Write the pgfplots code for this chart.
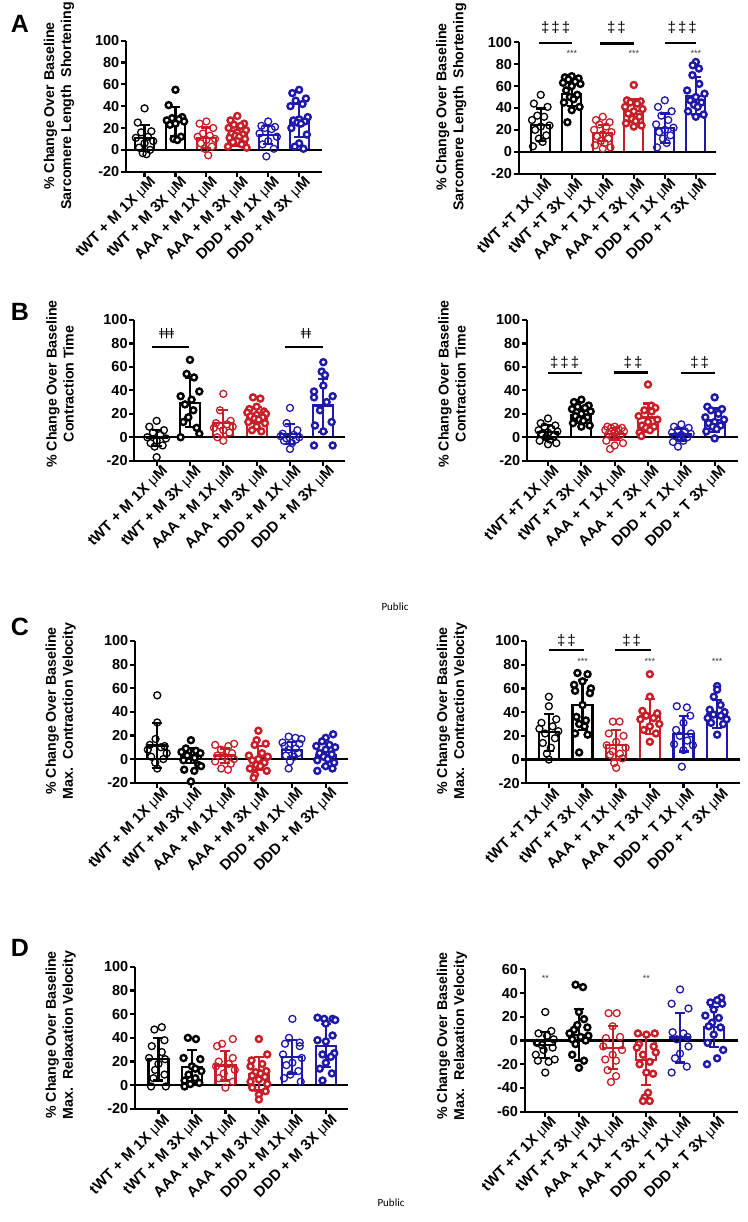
\documentclass[border=0pt]{standalone}
\usepackage{fontspec}
\setmainfont{Liberation Sans}
\newfontfamily\djv{DejaVu Sans}
\newfontfamily\carl{Carlito}
\usepackage{pgfplots}
\pgfplotsset{compat=1.18}
\definecolor{myred}{RGB}{200,30,40}
\definecolor{myblue}{RGB}{30,25,170}
\definecolor{stargray}{RGB}{60,60,60}
\newcommand{\um}{{\mdseries μ}}
\pgfplotsset{
 prism/.style={scale only axis, axis x line=bottom, axis y line=left,
   axis line style={-, line width=2.2pt, black},
   ymin=-20, ymax=100, ytick={-20,0,20,40,60,80,100}, yticklabels={-20,0,20,40,60,80,100},
   xtick={0,1,2,3,4,5},
   major tick length=5pt, tick align=outside, tick style={line width=2.2pt, black},
   yticklabel style={font=\fontsize{14.5}{14.5}\selectfont\bfseries, inner sep=1.5pt},
   xticklabel style={font=\fontsize{15}{15}\selectfont\bfseries, rotate=45, anchor=east, inner sep=1pt, yshift=-9pt, xshift=5pt},
   bar width=20pt, clip=false},
 Mlab/.style={xticklabels={tWT + M 1X \um M, tWT + M 3X \um M, AAA + M 1X \um M, AAA + M 3X \um M, DDD + M 1X \um M, DDD + M 3X \um M}},
 Tlab/.style={xticklabels={tWT +T 1X \um M, tWT +T 3X \um M, AAA + T 1X \um M, AAA + T 3X \um M, DDD + T 1X \um M, DDD + T 3X \um M}},
 barst/.style={ybar, bar shift=0pt, fill=white, draw=#1, line width=2.2pt, mark=none, forget plot},
 zl/.style={black, line width=2.2pt, mark=none, forget plot},
 op/.style={only marks, mark=o, mark size=3.5pt, mark options={draw=#1, line width=1.3pt}, forget plot},
 fp/.style={only marks, mark=*, mark size=3pt, mark options={draw=#1, fill=white, line width=2.4pt}, forget plot},
 er/.style={draw=none, mark=none, forget plot, error bars/.cd, y dir=both, y explicit,
   error bar style={line width=2.2pt, draw=#1}, error mark options={rotate=90, mark size=5pt, line width=2.2pt, draw=#1}},
}
\tikzset{
 dag/.style={font=\fontsize{15}{15}\selectfont, inner sep=0pt},
 st/.style={font=\fontsize{9}{9}\selectfont, text=stargray, inner sep=0pt},
 ylab/.style={rotate=90, align=center, font=\fontsize{14.2}{17}\selectfont\bfseries},
 plab/.style={font=\fontsize{25}{25}\selectfont\bfseries},
}
\newcommand{\dg}{‡\hspace{2pt}}
\begin{document}
\begin{tikzpicture}[x=1pt,y=1pt]
\path[use as bounding box] (0,0) rectangle (747,1222);

% ---------------- A left
\begin{axis}[prism, Mlab, at={(126pt,1050.3pt)}, anchor=south west, width=196pt, height=131pt, xmin=-0.60, xmax=5.74, bar width=19pt]
\addplot[barst=black] coordinates {(0,11) (1,26)};
\addplot[barst=myred] coordinates {(2,11) (3,14)};
\addplot[barst=myblue] coordinates {(4,13.5) (5,27)};
\addplot[zl] coordinates {(-0.60,0) (5.74,0)};
\addplot[op=black] coordinates {(0,38) (-0.22,25) (0.22,17) (-0.11,16) (0.11,12) (-0.28,11) (0.28,8) (0,6) (-0.18,2) (0.18,0) (-0.06,-3) (0.06,-4)};
\addplot[fp=black] coordinates {(1,55) (0.78,41) (1.22,30) (0.89,29) (1.11,28) (0.72,27) (1.28,26) (1,24) (0.82,23) (1.18,12) (0.94,10) (1.06,9)};
\addplot[op=myred] coordinates {(2,26) (1.78,24) (2.22,20) (1.89,15) (2.11,13) (1.72,12) (2.28,10) (2,9) (1.82,6) (2.18,3) (1.94,1) (2.06,-5)};
\addplot[fp=myred] coordinates {(3,31) (2.78,27) (3.22,24) (2.89,23) (3.11,22) (2.72,20) (3.28,18) (3,16) (2.82,15) (3.18,14) (2.94,13) (3.06,12) (2.75,11) (3.25,10) (3,8) (2.86,7) (3.14,5) (2.7,3) (3.3,2)};
\addplot[op=myblue] coordinates {(4,26) (3.78,22) (4.22,21) (3.89,20) (4.11,19) (3.72,15) (4.28,12) (4,8) (3.82,5) (4.18,1) (3.94,-6)};
\addplot[fp=myblue] coordinates {(5,55) (4.78,52) (5.22,47) (4.89,45) (5.11,42) (4.72,40) (5.28,30) (5,28) (4.82,27) (5.18,26) (4.94,25) (5.06,24) (4.75,20) (5.25,14) (5,6) (4.86,3) (5.14,1)};
\addplot[er=black] coordinates {(0,11) +- (0,12) (1,26) +- (0,13)};
\addplot[er=myred] coordinates {(2,11) +- (0,9.5) (3,14) +- (0,10)};
\addplot[er=myblue] coordinates {(4,13.5) +- (0,8.5) (5,27) +- (0,15)};
\end{axis}

% ---------------- A right
\begin{axis}[prism, Tlab, at={(518.7pt,1048.3pt)}, anchor=south west, width=197.6pt, height=131.4pt, xmin=-0.71, xmax=5.66, bar width=19pt]
\addplot[barst=black] coordinates {(0,24.5) (1,52.5)};
\addplot[barst=myred] coordinates {(2,17) (3,37.5)};
\addplot[barst=myblue] coordinates {(4,21.5) (5,51)};
\addplot[zl] coordinates {(-0.71,0) (5.66,0)};
\addplot[op=black] coordinates {(0,52) (-0.22,44) (0.22,41) (-0.11,33) (0.11,32) (-0.28,29) (0.28,24) (0,23) (-0.18,20) (0.18,15) (-0.06,12) (0.06,9) (-0.25,5)};
\addplot[fp=black] coordinates {(1,69) (0.78,68) (1.22,67) (0.89,66) (1.11,64) (0.72,63) (1.28,62) (1,60) (0.82,56) (1.18,52) (0.94,50) (1.06,48) (0.75,45) (1.25,41) (1,38) (0.86,27)};
\addplot[op=myred] coordinates {(2,32) (1.78,29) (2.22,27) (1.89,25) (2.11,23) (1.72,20) (2.28,18) (2,16) (1.82,14) (2.18,12) (1.94,10) (2.06,8) (1.75,6) (2.25,4) (2,3)};
\addplot[fp=myred] coordinates {(3,61) (2.78,47) (3.22,46) (2.89,45) (3.11,44) (2.72,41) (3.28,39) (3,37) (2.82,35) (3.18,32) (2.94,30) (3.06,28) (2.75,26) (3.25,24) (3,23)};
\addplot[op=myblue] coordinates {(4,47) (3.78,41) (4.22,37) (3.89,33) (4.11,29) (3.72,25) (4.28,22) (4,20) (3.82,18) (4.18,15) (3.94,12) (4.06,8) (3.75,4)};
\addplot[fp=myblue] coordinates {(5,82) (4.9,79) (5.1,76) (4.89,70) (5.11,62) (4.72,56) (5.28,53) (5,50) (4.82,47) (5.18,45) (4.94,43) (5.06,41) (4.75,37) (5.25,34) (5,32)};
\addplot[er=black] coordinates {(0,24.5) +- (0,15) (1,52.5) +- (0,10.5)};
\addplot[er=myred] coordinates {(2,17) +- (0,7.5) (3,37.5) +- (0,10.5)};
\addplot[er=myblue] coordinates {(4,21.5) +- (0,13.5) (5,51) +- (0,17)};
\draw[line width=2pt] (axis cs:-0.06,99) -- (axis cs:1,99);
\draw[line width=3pt] (axis cs:1.9,98.5) -- (axis cs:3,98.5);
\draw[line width=2pt] (axis cs:4,99) -- (axis cs:5,99);
\node[dag] at (axis cs:0.48,113) {\dg\dg‡};
\node[dag] at (axis cs:2.44,113) {\dg‡};
\node[dag] at (axis cs:4.56,113) {\dg\dg‡};
\node[st] at (axis cs:1,90) {***};
\node[st] at (axis cs:3,90) {***};
\node[st] at (axis cs:5,90) {***};
\end{axis}

% ---------------- B left
\begin{axis}[prism, Mlab, at={(134.3pt,761.3pt)}, anchor=south west, width=210.7pt, height=140.7pt, xmin=-0.67, xmax=5.65]
\addplot[barst=black] coordinates {(0,-0.5) (1,29.5)};
\addplot[barst=myred] coordinates {(2,12) (3,19)};
\addplot[barst=myblue] coordinates {(4,2.5) (5,27)};
\addplot[zl] coordinates {(-0.67,0) (5.65,0)};
\addplot[op=black] coordinates {(0,14) (-0.22,9) (0.22,6) (-0.11,4) (0.11,2) (-0.28,0) (0.28,-1) (0,-3) (-0.18,-5) (0.18,-7) (-0.06,-8) (0,-17)};
\addplot[fp=black] coordinates {(1,66) (0.9,54) (1.12,51) (1.28,39) (0.72,35) (1.05,32) (0.85,28) (1.1,23) (0.95,17) (0.8,13) (1.2,8) (1.28,3) (0.72,0)};
\addplot[op=myred] coordinates {(2,37) (1.9,23) (2.22,14) (1.78,12) (2.11,11) (1.89,10) (2.28,9) (1.72,8) (2,6) (2.18,4) (1.82,0) (2,-3)};
\addplot[fp=myred] coordinates {(2.89,34) (3.11,33) (3,26) (2.78,24) (3.22,22) (2.72,21) (3.28,20) (3,19) (2.82,18) (3.18,17) (2.94,16) (3.06,15) (2.75,13) (3.25,12) (3,9) (2.86,6) (3.14,5)};
\addplot[op=myblue] coordinates {(4,25) (3.9,12) (4.22,6) (3.78,3) (4.11,2) (3.72,1) (4.28,0) (3.89,-1) (4.18,-2) (3.82,-3) (4.06,-5) (4,-10)};
\addplot[fp=myblue] coordinates {(5,64) (4.95,56) (5.05,53) (5,44) (4.72,39) (5.28,35) (4.72,34) (5.1,30) (4.9,23) (5.25,13) (4.75,10) (5,5) (4.72,-7) (5.28,-7)};
\addplot[er=black] coordinates {(0,-0.5) +- (0,7) (1,29.5) +- (0,21)};
\addplot[er=myred] coordinates {(2,12) +- (0,11.5) (3,19) +- (0,7)};
\addplot[er=myblue] coordinates {(4,2.5) +- (0,8.5) (5,27) +- (0,22.5)};
\draw[line width=2.5pt] (axis cs:-0.15,77) -- (axis cs:0.98,77);
\draw[line width=2.5pt] (axis cs:3.85,77) -- (axis cs:4.98,77);
\node[font=\fontsize{11}{11}\selectfont\djv, inner sep=0pt] at (axis cs:0.3,88) {ǂǂǂ};
\node[font=\fontsize{11}{11}\selectfont\djv, inner sep=0pt] at (axis cs:4.48,88) {ǂǂ};
\end{axis}

% ---------------- B right
\begin{axis}[prism, Tlab, at={(527pt,761.3pt)}, anchor=south west, width=211pt, height=140.7pt, xmin=-0.63, xmax=5.70]
\addplot[barst=black] coordinates {(0,4.5) (1,19)};
\addplot[barst=myred] coordinates {(2,3) (3,16.8)};
\addplot[barst=myblue] coordinates {(4,2.3) (5,14.5)};
\addplot[zl] coordinates {(-0.63,0) (5.70,0)};
\addplot[op=black] coordinates {(0,16) (-0.22,12) (0.22,10) (-0.11,9) (0.11,7) (-0.28,6) (0.28,5) (0,4) (-0.18,3) (0.18,1) (-0.06,0) (0.06,-2) (-0.25,-3) (0.25,-5) (0,-6)};
\addplot[fp=black] coordinates {(1,32) (0.78,30) (1.22,27) (0.89,26) (1.11,25) (0.72,24) (1.28,22) (1,20) (0.82,18) (1.18,17) (0.94,15) (1.06,14) (0.75,12) (1.25,10) (1,9)};
\addplot[op=myred] coordinates {(2,9) (1.78,9) (2.22,8) (1.89,8) (2.11,7) (1.72,6) (2.28,5) (2,4) (1.82,3) (2.18,2) (1.94,1) (2.06,0) (1.75,-3) (2.25,-5) (2,-7) (1.86,-10)};
\addplot[fp=myred] coordinates {(3,45) (3.1,27) (3.22,25) (2.89,23) (3.11,22) (2.72,18) (3.28,15) (3,13) (2.82,10) (3.18,9) (2.94,8) (3.06,6) (2.75,4) (2.8,1)};
\addplot[op=myblue] coordinates {(4,11) (3.78,9) (4.22,8) (3.89,6) (4.11,5) (3.72,4) (4.28,3) (4,2) (3.82,1) (4.18,0) (3.94,-1) (4.06,-3) (3.75,-4) (3.9,-8)};
\addplot[fp=myblue] coordinates {(5,34) (4.78,26) (5.22,24) (4.89,23) (5.11,20) (4.72,17) (5.28,15) (5,13) (4.82,12) (5.18,10) (4.94,9) (5.06,7) (4.75,5) (5,-1)};
\addplot[er=black] coordinates {(0,4.5) +- (0,6) (1,19) +- (0,7)};
\addplot[er=myred] coordinates {(2,3) +- (0,5) (3,16.8) +- (0,12)};
\addplot[er=myblue] coordinates {(4,2.3) +- (0,5) (5,14.5) +- (0,10)};
\draw[line width=2pt] (axis cs:0,55) -- (axis cs:1.03,55);
\draw[line width=3pt] (axis cs:1.97,55) -- (axis cs:3,55);
\draw[line width=2pt] (axis cs:4,55) -- (axis cs:5,55);
\node[dag] at (axis cs:0.5,64) {\dg\dg‡};
\node[dag] at (axis cs:2.55,64) {\dg‡};
\node[dag] at (axis cs:4.55,64) {\dg‡};
\end{axis}

% ---------------- C left
\begin{axis}[prism, Mlab, at={(135pt,439.3pt)}, anchor=south west, width=213.3pt, height=141.7pt, xmin=-0.66, xmax=5.67]
\addplot[barst=black] coordinates {(0,11.5) (1,3)};
\addplot[barst=myred] coordinates {(2,3) (3,1)};
\addplot[barst=myblue] coordinates {(4,8) (5,3.7)};
\addplot[zl] coordinates {(-0.66,0) (5.67,0)};
\addplot[op=black] coordinates {(0,54) (0,31) (-0.05,17) (-0.22,12) (0.22,11) (0.11,10) (-0.28,8) (0.28,5) (-0.18,2) (0.18,0) (-0.06,-3) (0,-8)};
\addplot[fp=black] coordinates {(1,16) (0.85,9) (1.15,7) (0.72,6) (1.28,5) (0.89,3) (1.11,1) (0.78,-1) (1.22,-5) (1.3,-6) (0.8,-9) (1.1,-10) (1,-19)};
\addplot[op=myred] coordinates {(2.28,13) (1.72,12) (2.11,11) (1.89,8) (2.22,5) (1.78,3) (2,2) (2.28,0) (1.72,-2) (2.18,-4) (1.9,-8) (2.1,-9)};
\addplot[fp=myred] coordinates {(3,24) (2.95,16) (3.22,13) (2.89,12) (3.11,5) (2.72,3) (3.28,2) (3,0) (2.82,-1) (3.18,-3) (2.94,-5) (3.06,-6) (2.75,-8) (3.25,-10) (2.9,-13) (2.86,-16)};
\addplot[op=myblue] coordinates {(3.9,19) (4.1,18) (4.28,17) (3.72,14) (4.22,13) (3.78,11) (4.11,9) (3.89,8) (4.18,5) (3.82,3) (4.06,2) (3.94,-2) (3.9,-8)};
\addplot[fp=myblue] coordinates {(5.22,21) (5,18) (4.89,15) (5.11,12) (4.72,11) (5.28,10) (5,8) (4.82,5) (5.18,4) (4.94,2) (5.06,0) (4.75,-1) (5.25,-3) (5,-6) (5.2,-8) (4.75,-10)};
\addplot[er=black] coordinates {(0,11.5) +- (0,19) (1,3) +- (0,6.5)};
\addplot[er=myred] coordinates {(2,3) +- (0,6) (3,1) +- (0,10)};
\addplot[er=myblue] coordinates {(4,8) +- (0,6.5) (5,3.7) +- (0,10)};
\end{axis}

% ---------------- C right
\begin{axis}[prism, Tlab, at={(526.3pt,438.7pt)}, anchor=south west, width=213.4pt, height=142.3pt, xmin=-0.67, xmax=5.67]
\addplot[barst=black] coordinates {(0,23) (1,46)};
\addplot[barst=myred] coordinates {(2,12.6) (3,36.4)};
\addplot[barst=myblue] coordinates {(4,21.8) (5,38.4)};
\addplot[zl] coordinates {(-0.67,0) (5.67,0)};
\addplot[op=black] coordinates {(0,53) (0,45) (0.22,34) (-0.22,31) (0.11,28) (-0.28,26) (0.28,24) (-0.11,22) (0.18,18) (-0.18,14) (0.06,10) (-0.06,5) (0,0)};
\addplot[fp=black] coordinates {(0.85,73) (1.15,72) (1,66) (0.75,63) (1.25,60) (0.78,58) (1.22,56) (1,46) (0.82,36) (1.1,33) (0.9,30) (1.06,28) (0.78,22) (1.15,21) (0.9,6)};
\addplot[op=myred] coordinates {(1.9,32) (2.1,32) (1.78,22) (2.22,20) (2,15) (1.72,12) (2.28,10) (1.89,7) (2.11,5) (1.82,4) (2.18,1) (1.94,-3) (2,-7)};
\addplot[fp=myred] coordinates {(3,72) (3,53) (2.78,41) (3.22,39) (2.89,37) (3.11,35) (2.72,34) (3.28,30) (3,28) (2.82,25) (3.18,22) (3,15)};
\addplot[op=myblue] coordinates {(3.8,45) (4.1,44) (4.2,37) (4,31) (3.78,25) (4.22,22) (3.89,20) (4.11,16) (3.72,13) (4.28,12) (4,8) (3.95,-6)};
\addplot[fp=myblue] coordinates {(5,62) (5,59) (4.9,53) (5.1,46) (4.78,42) (5.22,40) (4.89,38) (5.11,37) (4.72,35) (5.28,34) (4.82,31) (5.18,30) (5,21)};
\addplot[er=black] coordinates {(0,23) +- (0,15.5) (1,46) +- (0,21)};
\addplot[er=myred] coordinates {(2,12.6) +- (0,12.5) (3,36.4) +- (0,15)};
\addplot[er=myblue] coordinates {(4,21.8) +- (0,15) (5,38.4) +- (0,12)};
\draw[line width=2pt] (axis cs:0,92) -- (axis cs:1.05,92);
\draw[line width=2pt] (axis cs:1.96,92) -- (axis cs:3.03,92);
\node[dag] at (axis cs:0.52,100) {\dg‡};
\node[dag] at (axis cs:2.46,100) {\dg‡};
\node[st] at (axis cs:1,83) {***};
\node[st] at (axis cs:3,83) {***};
\node[st] at (axis cs:5,83) {***};
\end{axis}

% ---------------- D left
\begin{axis}[prism, Mlab, at={(135pt,113pt)}, anchor=south west, width=213.3pt, height=142.3pt, xmin=-0.70, xmax=5.67]
\addplot[barst=black] coordinates {(0,22) (1,15.7)};
\addplot[barst=myred] coordinates {(2,16.6) (3,9.6)};
\addplot[barst=myblue] coordinates {(4,24) (5,33.4)};
\addplot[zl] coordinates {(-0.70,0) (5.67,0)};
\addplot[op=black] coordinates {(0.1,49) (-0.12,47) (0.18,38) (-0.2,33) (0.1,28) (-0.28,23) (0.2,22) (0,18) (-0.1,13) (0.18,9) (-0.15,6) (-0.22,-1) (0.22,-1)};
\addplot[fp=black] coordinates {(0.88,40) (1.12,39) (0.75,23) (1.25,22) (1,16) (1.1,14) (1.28,12) (0.9,9) (1.1,6) (0.78,4) (1.22,2) (0.95,1) (0.78,-1)};
\addplot[op=myred] coordinates {(2.22,39) (1.9,35) (1.75,33) (2.22,23) (1.8,20) (2.1,18) (1.72,16) (2.28,13) (1.95,10) (1.8,6) (2.22,3) (2,-2)};
\addplot[fp=myred] coordinates {(3,39) (3.25,26) (2.78,21) (3.1,18) (2.75,16) (3.22,12) (2.9,11) (3.05,10) (2.8,8) (3.18,7) (3,5) (2.75,3) (3.25,1) (2.8,-2) (3.2,-5) (3,-8) (3,-12)};
\addplot[op=myblue] coordinates {(4,56) (3.9,40) (4.22,36) (3.78,35) (4.22,33) (3.72,26) (4.28,23) (4,19) (3.82,17) (4.18,12) (3.94,9) (3.75,6) (4.25,3)};
\addplot[fp=myblue] coordinates {(4.75,57) (4.95,56) (5.2,56) (5.28,55) (5,52) (5.2,42) (4.75,38) (5,37) (5.25,27) (4.9,26) (5.15,24) (5,19) (4.82,14) (5.18,10) (4.9,4)};
\addplot[er=black] coordinates {(0,22) +- (0,18) (1,15.7) +- (0,14)};
\addplot[er=myred] coordinates {(2,16.6) +- (0,12.5) (3,9.6) +- (0,14)};
\addplot[er=myblue] coordinates {(4,24) +- (0,14) (5,33.4) +- (0,18)};
\end{axis}

% ---------------- D right
\begin{axis}[prism, Tlab, at={(524.7pt,110.3pt)}, anchor=south west, width=213.3pt, height=142.4pt, xmin=-0.61, xmax=5.72,
  ymin=-60, ymax=60, ytick={-60,-40,-20,0,20,40,60}, yticklabels={-60,-40,-20,0,20,40,60}]
\addplot[barst=black] coordinates {(0,-4) (1,4.8)};
\addplot[barst=myred] coordinates {(2,-6) (3,-16.6)};
\addplot[barst=myblue] coordinates {(4,2.5) (5,11.3)};
\addplot[op=black] coordinates {(0,24) (0.18,8) (-0.2,6) (0.05,4) (0.25,1) (-0.25,-2) (-0.1,-4) (0.22,-6) (-0.05,-8) (-0.28,-12) (0.28,-16) (-0.22,-17) (0.1,-18) (0,-27)};
\addplot[fp=black] coordinates {(0.9,47) (1.12,45) (1,24) (1.15,18) (0.95,13) (1.25,11) (0.85,9) (0.72,6) (1.28,4) (1.05,3) (0.8,1) (1.2,0) (0.9,-3) (0.8,-12) (1.15,-17) (1,-23)};
\addplot[op=myred] coordinates {(1.88,23) (2.12,23) (2,12) (2.22,3) (1.8,2) (1.72,-5) (2.28,-8) (2,-12) (1.78,-16) (2.1,-17) (1.85,-25) (2.1,-30) (1.95,-35)};
\addplot[fp=myred] coordinates {(2.75,6) (3.25,6) (3,5) (2.78,-3) (3.22,-5) (2.72,-6) (3.28,-10) (2.9,-12) (3.1,-18) (2.8,-20) (3,-27) (3.2,-28) (3.05,-44) (2.95,-48) (2.9,-51) (3.1,-51)};
\addplot[op=myblue] coordinates {(4,43) (3.75,31) (4.25,27) (3.78,7) (4.1,6) (4.22,3) (3.9,1) (4.25,-5) (4,-11) (3.85,-15) (4.2,-22) (3.75,-27)};
\addplot[fp=myblue] coordinates {(5.22,36) (5.1,34) (4.9,32) (5.25,31) (5,26) (4.75,21) (5.15,19) (4.95,15) (4.85,12) (5.2,11) (5,5) (4.82,-2) (5.28,-8) (5.1,-15) (4.8,-20)};
\addplot[zl, line width=2.5pt] coordinates {(-0.61,0) (5.72,0)};
\addplot[er=black] coordinates {(0,-4) +- (0,11) (1,4.8) +- (0,21.7)};
\addplot[er=myred] coordinates {(2,-6) +- (0,18) (3,-16.6) +- (0,21)};
\addplot[er=myblue] coordinates {(4,2.5) +- (0,21) (5,11.3) +- (0,17)};
\node[st] at (axis cs:0,52.7) {**};
\node[st] at (axis cs:3,52.7) {**};
\end{axis}

% ---------------- y labels, panel letters, footers
\node[ylab] at (59,1116) {\% Change Over Baseline\\Sarcomere Length\ \ Shortening};
\node[ylab] at (451.3,1115) {\% Change Over Baseline\\Sarcomere Length\ \ Shortening};
\node[ylab] at (60,838) {\% Change Over Baseline\\Contraction Time};
\node[ylab] at (452,838) {\% Change Over Baseline\\Contraction Time};
\node[ylab] at (60.8,511) {\% Change Over Baseline\\Max.\ \ Contraction Velocity};
\node[ylab] at (452,511) {\% Change Over Baseline\\Max.\ \ Contraction Velocity};
\node[ylab] at (60.8,187) {\% Change Over Baseline\\Max.\ \ Relaxation Velocity};
\node[ylab] at (452,186) {\% Change Over Baseline\\Max.\ \ Relaxation Velocity};
\node[plab] at (20,1198) {A};
\node[plab] at (20,910) {B};
\node[plab] at (20,595) {C};
\node[plab] at (20,274) {D};
\node[font=\fontsize{11}{11}\selectfont\carl] at (395,615) {Public};
\node[font=\fontsize{11}{11}\selectfont\carl] at (391,19) {Public};
\end{tikzpicture}
\end{document}
